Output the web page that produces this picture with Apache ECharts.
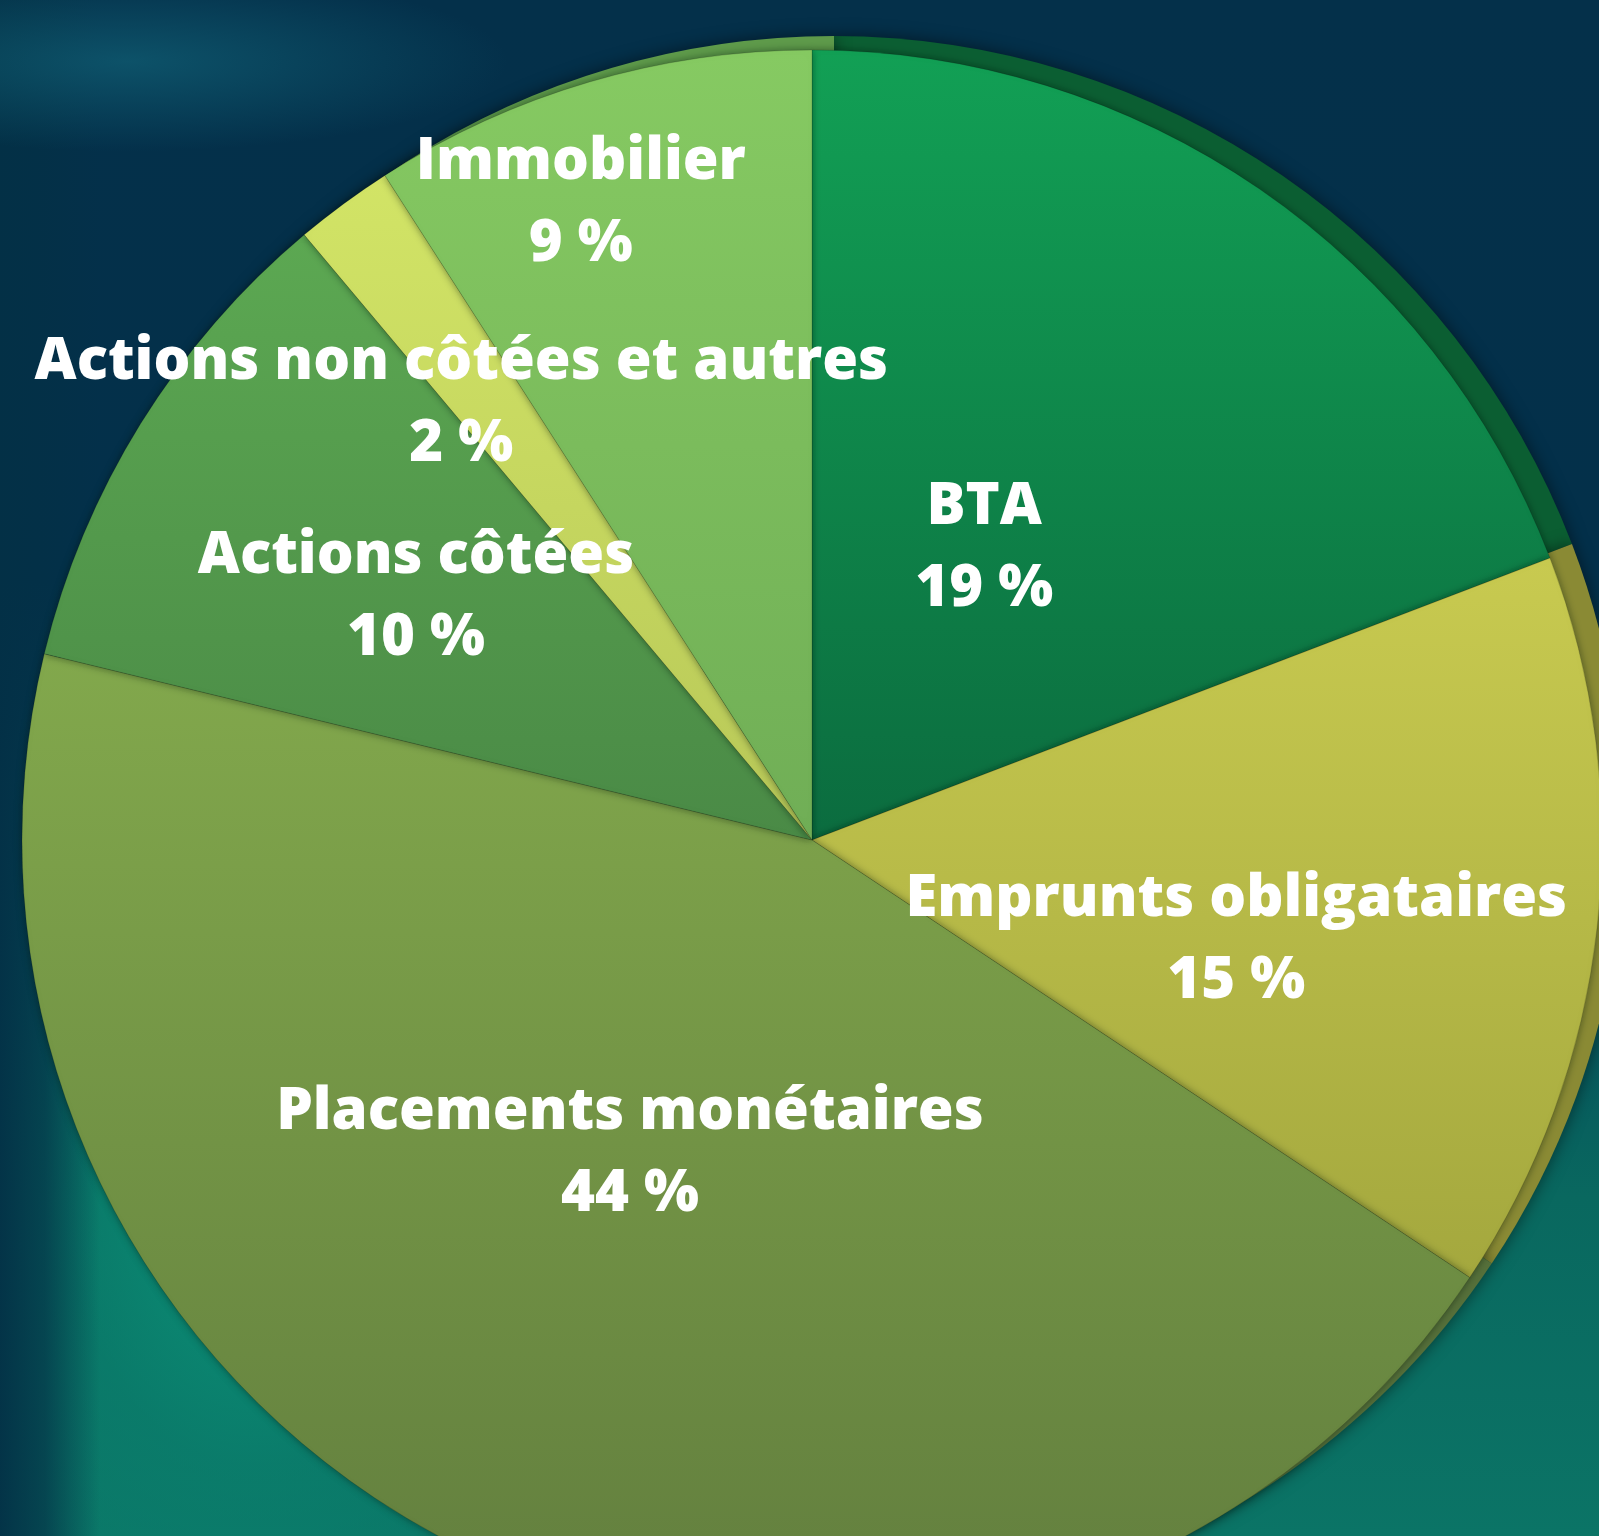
<!DOCTYPE html>
<html>
<head>
<meta charset="utf-8">
<title>Répartition des placements</title>
<script type="text/javascript" src="https://cdn.jsdelivr.net/npm/echarts@6/dist/echarts.min.js"></script>
<style type="text/css">
html, body {margin: 0; padding: 0; overflow: hidden;}
#main {
    width: 1599px; height: 1536px;
    background:
        radial-gradient(ellipse 380px 90px at 8% 4%, rgba(20,110,130,0.55) 0%, rgba(20,110,130,0) 100%),
        linear-gradient(to right, rgba(3,48,70,0.95) 0px, rgba(3,48,70,0.7) 45px, rgba(3,48,70,0) 100px),
        radial-gradient(ellipse 420px 600px at 16% 78%, rgba(12,150,122,0.95) 0%, rgba(10,130,110,0.6) 45%, rgba(10,110,100,0) 100%),
        linear-gradient(to bottom, #04304a 0%, #03304a 38%, #05485a 58%, #09685f 78%, #0b7466 100%);
}
</style>
</head>
<body>
<div id="main"></div>
<script type="text/javascript">
// données (en %)
var categories = ['BTA', 'Emprunts obligataires', 'Placements monétaires', 'Actions côtées', 'Actions non côtées et autres', 'Immobilier'];
var values = [19, 15, 44, 10, 2, 9];

// couleurs des parts (haut -> bas du dégradé) et de la tranche 3D
var colorsTop = ['#12a055', '#c8ca50', '#82a84c', '#5ca852', '#d2e466', '#86ca62'];
var colorsBottom = ['#0b6c3f', '#a4a83e', '#627e3e', '#4a8a46', '#b8c858', '#70ae56'];
var colorsRim = ['#0b5e32', '#8a8a34', '#56703a', '#427a40', '#a8b850', '#5e9a4a'];
// placement des libellés : distance au centre (fraction du rayon) et décalage angulaire (degrés)
var labelDist = [0.429, 0.552, 0.459, 0.588, 0.709, 0.857];
var labelTurn = [-4.0, 7.0, 6.5, -0.3, -2.4, -3.6];

var cx = 812, cy = 840, R = 790;

var myChart = echarts.init(document.getElementById('main'));

var mainData = categories.map(function (name, i) {
    return {
        name: name,
        value: values[i],
        itemStyle: {
            color: new echarts.graphic.LinearGradient(0, 0, 0, 1, [
                {offset: 0, color: colorsTop[i]},
                {offset: 1, color: colorsBottom[i]}
            ])
        }
    };
});
var rimData = categories.map(function (name, i) {
    return {name: name, value: values[i], itemStyle: {color: colorsRim[i]}};
});

var option = {
    backgroundColor: 'transparent',
    animation: false,
    series: [
        {
            // tranche (effet 3D) derrière le disque
            type: 'pie',
            silent: true,
            center: [cx + 22, cy - 14],
            radius: R,
            startAngle: 90,
            data: rimData,
            label: {show: false},
            labelLine: {show: false},
            itemStyle: {
                shadowColor: 'rgba(0,0,0,0.5)',
                shadowBlur: 16
            },
            emphasis: {disabled: true}
        },
        {
            type: 'pie',
            center: [cx, cy],
            radius: R,
            startAngle: 90,
            clockwise: true,
            data: mainData,
            itemStyle: {
                borderColor: 'rgba(0,0,0,0.15)',
                borderWidth: 1,
                shadowColor: 'rgba(0,20,10,0.45)',
                shadowBlur: 8
            },
            label: {
                show: true,
                position: 'inside',
                formatter: '{b}\n{c} %',
                color: '#ffffff',
                fontFamily: 'Open Sans',
                fontWeight: 800,
                fontSize: 58,
                lineHeight: 82,
                align: 'center'
            },
            labelLine: {show: false},
            labelLayout: function (p) {
                var lx = p.labelRect.x + p.labelRect.width / 2;
                var ly = p.labelRect.y + p.labelRect.height / 2;
                var a = Math.atan2(ly - cy, lx - cx) + labelTurn[p.dataIndex] * Math.PI / 180;
                var r = labelDist[p.dataIndex] * R;
                return {dx: cx + r * Math.cos(a) - lx, dy: cy + r * Math.sin(a) - ly};
            },
            emphasis: {disabled: true}
        }
    ]
};

myChart.setOption(option);
</script>
</body>
</html>
